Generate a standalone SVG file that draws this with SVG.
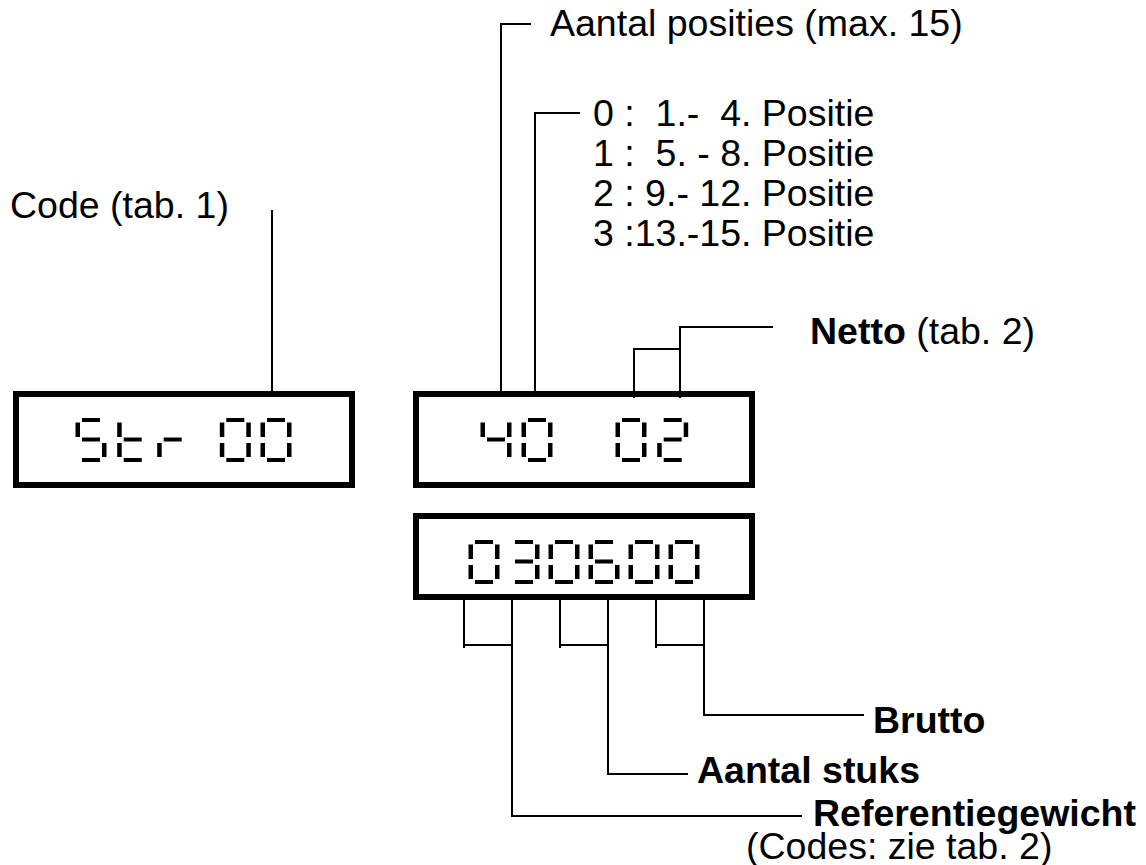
<svg xmlns="http://www.w3.org/2000/svg" xmlns:xlink="http://www.w3.org/1999/xlink" width="1146" height="865" viewBox="0 0 1146 865">
<style>
.t{font-family:"Liberation Sans",Arial,sans-serif;font-size:37.5px;fill:#000;white-space:pre}
.b{font-weight:bold}
.box{fill:none;stroke:#000;stroke-width:6}
.ln{fill:none;stroke:#000;stroke-width:2}
.seg{fill:#000}
</style>
<defs>
<rect id="sa" class="seg" x="7" y="0" width="18" height="4"/>
<rect id="sb" class="seg" x="27" y="4.5" width="4.5" height="14.5"/>
<rect id="sc" class="seg" x="27" y="25" width="4.5" height="14"/>
<rect id="sd" class="seg" x="7" y="40" width="18" height="4"/>
<rect id="se" class="seg" x="0.5" y="25" width="4.5" height="14"/>
<rect id="sf" class="seg" x="0.5" y="4.5" width="4.5" height="14.5"/>
<rect id="sg" class="seg" x="7" y="19.5" width="18" height="4"/>
<g id="g0"><use href="#sa"/><use href="#sb"/><use href="#sc"/><use href="#sd"/><use href="#se"/><use href="#sf"/></g>
<g id="g2"><use href="#sa"/><use href="#sb"/><use href="#sg"/><use href="#se"/><use href="#sd"/></g>
<g id="g3"><use href="#sa"/><use href="#sb"/><use href="#sg"/><use href="#sc"/><use href="#sd"/></g>
<g id="g4"><use href="#sf"/><use href="#sg"/><use href="#sb"/><use href="#sc"/></g>
<g id="g6"><use href="#sa"/><use href="#sf"/><use href="#sg"/><use href="#se"/><use href="#sc"/><use href="#sd"/></g>
<g id="gS"><use href="#sa"/><use href="#sf"/><use href="#sg"/><use href="#sc"/><use href="#sd"/></g>
<g id="gt"><use href="#sf"/><use href="#se"/><use href="#sg"/><use href="#sd"/></g>
<g id="gr"><use href="#se"/><use href="#sg"/></g>
</defs>
<rect width="1146" height="865" fill="#fff"/>

<g id="connectors">
<path class="ln" d="M272 210 V392"/>
<path class="ln" d="M531 24 H501 V392"/>
<path class="ln" d="M580 113 H535 V392"/>
<path class="ln" d="M634 398 V349 H680"/>
<path class="ln" d="M680 398 V327 H773"/>
<path class="ln" d="M464 598 V648 M560 598 V648 M656 598 V648"/>
<path class="ln" d="M464 645 H512 M560 645 H608 M656 645 H704"/>
<path class="ln" d="M512 598 V816 H802"/>
<path class="ln" d="M608 598 V774 H688"/>
<path class="ln" d="M704 598 V715 H864"/>
</g>

<g id="display-left">
<rect class="box" x="16" y="394" width="336" height="91"/>
<use href="#gS" x="75" y="418"/>
<use href="#gt" x="116.7" y="418"/>
<use href="#gr" x="156.7" y="418"/>
<use href="#g0" x="219.3" y="418"/>
<use href="#g0" x="260" y="418"/>
</g>

<g id="display-right">
<rect class="box" x="416" y="394" width="336" height="91"/>
<use href="#g4" x="480" y="418"/>
<use href="#g0" x="521" y="418"/>
<use href="#g0" x="615" y="418"/>
<use href="#g2" x="656.7" y="418"/>
</g>

<g id="display-bottom">
<rect class="box" x="416" y="516" width="336" height="81"/>
<use href="#g0" x="468" y="540"/>
<use href="#g3" x="508" y="540"/>
<use href="#g0" x="548" y="540"/>
<use href="#g6" x="588" y="540"/>
<use href="#g0" x="628" y="540"/>
<use href="#g0" x="668" y="540"/>
</g>

<g id="label-code"><text class="t" x="10" y="218">Code (tab. 1)</text></g>
<g id="label-posities"><text class="t" x="550" y="36">Aantal posities (max. 15)</text></g>
<g id="label-positie-list">
<text class="t" x="593" y="126">0 :  1.-  4. Positie</text>
<text class="t" x="593" y="166">1 :  5. - 8. Positie</text>
<text class="t" x="593" y="206">2 : 9.- 12. Positie</text>
<text class="t" x="593" y="246">3 :13.-15. Positie</text>
</g>
<g id="label-netto"><text class="t" x="810" y="344"><tspan class="b">Netto</tspan> (tab. 2)</text></g>
<g id="label-brutto"><text class="t b" x="873" y="733">Brutto</text></g>
<g id="label-stuks"><text class="t b" x="697" y="783">Aantal stuks</text></g>
<g id="label-ref">
<text class="t b" x="813" y="826">Referentiegewicht</text>
<text class="t" x="746" y="859">(Codes: zie tab. 2)</text>
</g>
</svg>
